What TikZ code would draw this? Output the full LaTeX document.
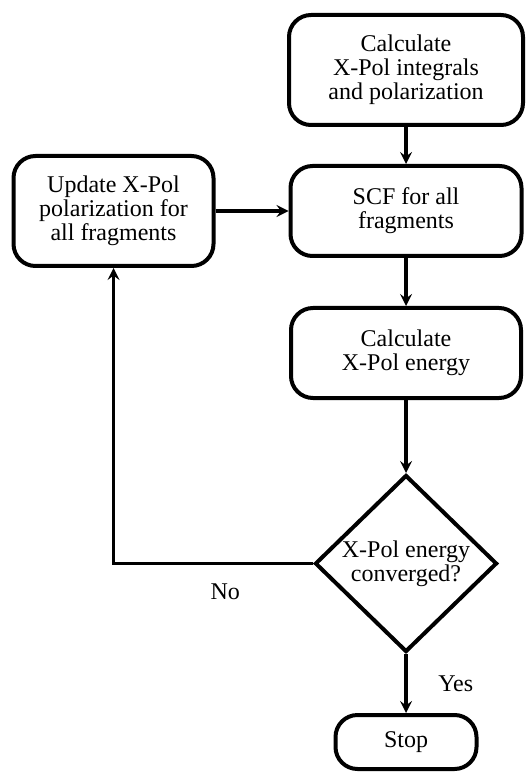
\documentclass[tikz,border=0pt]{standalone}
\usepackage{fontspec}
\setmainfont{Liberation Serif}
\usetikzlibrary{positioning,arrows,shapes}
\tikzset{
node distance=18pt,
>=stealth,
every node/.style={font=\fontsize{12}{12}\selectfont},
blk/.style={draw,rectangle,rounded corners=11pt,line width=2pt,align=center,inner sep=2pt},
dec/.style={draw,diamond,line width=2pt,align=center,inner sep=0pt,minimum width=91pt,minimum height=88.5pt}
}
\begin{document}
\begin{tikzpicture}[->,line width=1.6pt]
\useasboundingbox (0,0) rectangle (263.5pt,-387pt);

\node[blk,minimum width=117pt,minimum height=55pt] (calc) at (203pt,-35pt) {Calculate\\X-Pol integrals\\and polarization};
\node[blk,minimum width=115.5pt,minimum height=45pt] (scf)    [below=18.5pt of calc]   {SCF for all\\fragments};
\node[blk,minimum width=115pt,minimum height=45pt]   (energy) [below=24pt of scf]     {Calculate\\X-Pol energy};
\node[dec]                                           (conv)   [below=36.5pt of energy] {X-Pol energy\\converged?};
\node[blk,minimum width=70.5pt,minimum height=27pt]  (stop)   [below=29.5pt of conv]  {Stop};
\node[blk,minimum width=100pt,minimum height=55pt]   (upd)    [left=36.5pt of scf]    {Update X-Pol\\polarization for\\all fragments};

\draw (calc) -- (scf);
\draw (scf) -- (energy);
\draw (energy) -- (conv);
\draw (conv) -- node[right=12pt] {Yes} (stop);
\draw (upd) -- (scf);
\draw (conv.west) -| node[pos=0.22,below=6pt] {No} (upd);
\end{tikzpicture}
\end{document}
